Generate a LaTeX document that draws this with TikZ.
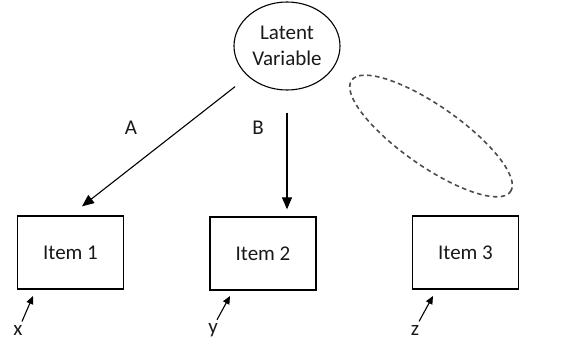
\documentclass[tikz,border=0pt]{standalone}
\usepackage{fontspec}
\setmainfont{Carlito}
\usetikzlibrary{arrows.meta,calc,shapes.geometric}
\begin{document}
\begin{tikzpicture}[x=1pt,y=-1pt,
  txt/.style={font=\fontsize{21}{26}\selectfont, text=black!90},
  itembox/.style={draw, line width=1.3pt, minimum width=106pt, minimum height=73pt, inner sep=0pt, txt},
  arr/.style={draw, line width=1.1pt, -{Triangle[length=12pt,width=10pt]}},
  arrs/.style={draw, line width=1.1pt, -{Triangle[length=8pt,width=7pt]}}]
\useasboundingbox (0,0) rectangle (572,345);
\node[ellipse, draw, line width=1.1pt, minimum width=106pt, minimum height=88pt, inner sep=0pt, txt, align=center] (lv) at (287,46) {Latent\\Variable};
\node[itembox] (i1) at (70.5,252.5) {Item 1};
\node[itembox] (i2) at (263,253.5) {Item 2};
\node[itembox] (i3) at (465.5,252.5) {Item 3};
\path[arr, shorten <=66pt, shorten >=14.6pt] (lv.center) -- (i1.north);
\path[arr, shorten <=22pt, shorten >=7pt] (lv.south) -- (lv.south |- i2.north);
\node[txt] (la) at (131,128) {A};
\node[txt] (lb) at (258,128) {B};
\draw[dashed, dash pattern=on 4.5pt off 3.5pt, line width=1.6pt, black!70, rotate around={-35:(431,136)}] (431,136) ellipse [x radius=97pt, y radius=30pt];
\node[txt] (xl) at (18,330) {x};
\node[txt] (yl) at (213,330) {y};
\node[txt] (zl) at (415,330) {z};
\coordinate (xt) at (33,296);
\coordinate (yt) at (230,296);
\coordinate (zt) at (433,296);
\path[arrs, shorten <=0pt] ($(xl.north)+(4,0)$) -- (xt);
\path[arrs, shorten <=0pt] ($(yl.north)+(4,0)$) -- (yt);
\path[arrs, shorten <=0pt] ($(zl.north)+(4,0)$) -- (zt);
\end{tikzpicture}
\end{document}
